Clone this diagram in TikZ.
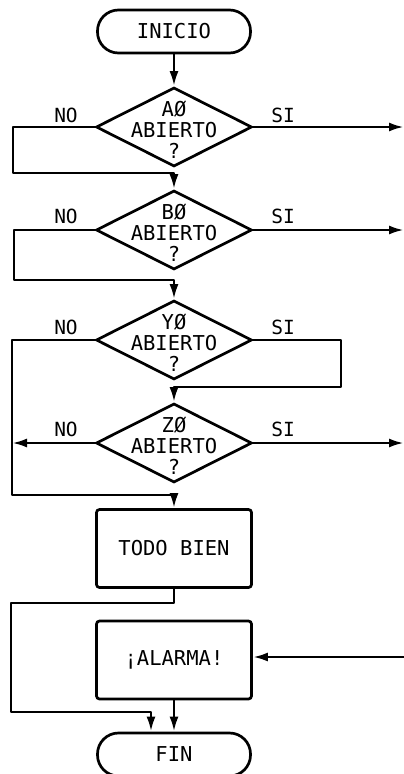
\documentclass[tikz,border=0pt]{standalone}
\usepackage{fontspec}
\newfontfamily\lettering{DejaVu Sans Mono}
\usetikzlibrary{shapes.geometric,arrows.meta}
\begin{document}
\begin{tikzpicture}[x=1pt,y=-1pt,
  line/.style={line width=2.7pt, line join=round},
  flow/.style={line, -{Latex[length=15pt,width=9pt]}},
  terminal/.style={draw, line width=2.7pt, rounded corners=21pt, minimum width=153pt, minimum height=43pt, inner sep=0pt,
    font=\lettering\fontsize{20.5}{21}\selectfont},
  procbox/.style={draw, line width=2.7pt, rounded corners=3pt, minimum width=155pt, minimum height=78pt, inner sep=0pt,
    font=\lettering\fontsize{20.5}{21}\selectfont},
  decision/.style={draw, diamond, line width=2.7pt, minimum width=156pt, minimum height=79pt, inner sep=0pt},
  txt/.style={font=\lettering\fontsize{20.5}{21}\selectfont, align=center, inner sep=0pt},
  lbl/.style={font=\lettering\fontsize{19.5}{21}\selectfont, inner sep=0pt}]
\useasboundingbox (0,0) rectangle (404,774);

% start / end terminals
\node[terminal] (inicio) at (174,31.5) {INICIO};
\node[terminal] (fin) at (174,754.5) {FIN};

% decisions
\node[decision] (dA) at (174,127) {};
\node[txt] (tA) at (174,130) {AØ\\ABIERTO\\?};
\node[decision] (dB) at (174,230) {};
\node[txt] (tB) at (174,233) {BØ\\ABIERTO\\?};
\node[decision] (dY) at (174,340) {};
\node[txt] (tY) at (174,343) {YØ\\ABIERTO\\?};
\node[decision] (dZ) at (174,443) {};
\node[txt] (tZ) at (174,446) {ZØ\\ABIERTO\\?};

% branch labels
\node[lbl] (noA) at (66,115) {NO};
\node[lbl] (siA) at (283,115) {SI};
\node[lbl] (noB) at (66,216) {NO};
\node[lbl] (siB) at (283,216) {SI};
\node[lbl] (noY) at (66,327) {NO};
\node[lbl] (siY) at (283,327) {SI};
\node[lbl] (noZ) at (66,429) {NO};
\node[lbl] (siZ) at (283,429) {SI};

% process boxes
\node[procbox] (todo) at (174,548.5) {TODO BIEN};
\node[procbox] (alarma) at (174,660) {¡ALARMA!};

% free ends and bends
\coordinate (outA) at (404,127);
\coordinate (outB) at (404,230);
\coordinate (outZ) at (404,443);
\coordinate (busL) at (12,443);
\coordinate (inAl) at (404,657);
\coordinate (join) at (151,712);

% connectors
\draw[flow] (inicio.south) -- (dA.north);
\draw[flow] (dA.east) -- (outA);
\draw[flow] (dA.west) -| (13,173) -| (dB.north);
\draw[flow] (dB.east) -- (outB);
\draw[flow] (dB.west) -| (14,280) -| (dY.north);
\draw[flow] (dY.east) -| (341,387) -| (dZ.north);
\draw[flow] (dY.west) -| (12,495) -| (todo.north);
\draw[flow] (dZ.west) -- (busL);
\draw[flow] (dZ.east) -- (outZ);
\draw[flow] (todo.south) |- (11,603) |- (join) -- (join |- fin.north);
\draw[flow] (inAl) -- (inAl -| alarma.east);
\draw[flow] (alarma.south) -- (fin.north);
\end{tikzpicture}
\end{document}
